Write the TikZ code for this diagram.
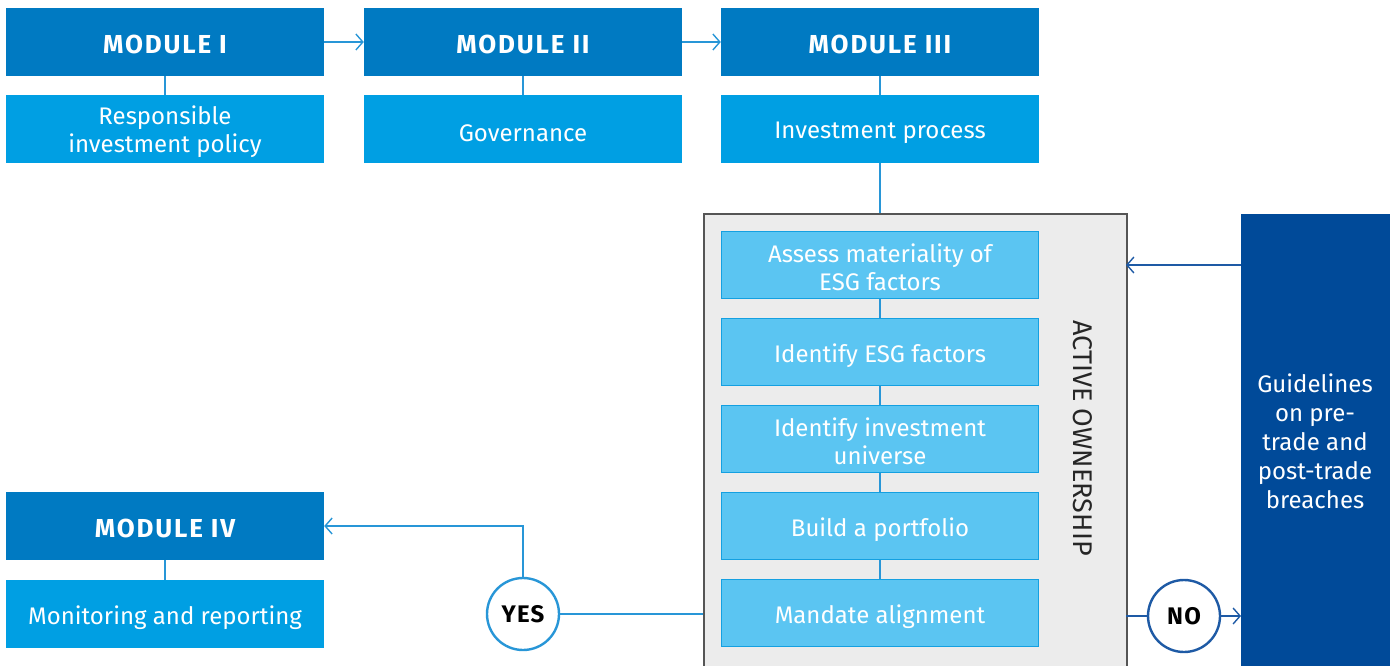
\documentclass[tikz,border=0pt]{standalone}
\usepackage{fontspec}
\setmainfont{Fira Sans}
\usetikzlibrary{arrows.meta}
\definecolor{hdr}{RGB}{0,122,194}
\definecolor{sub}{RGB}{0,159,227}
\definecolor{inner}{RGB}{91,197,242}
\definecolor{innerb}{RGB}{20,160,225}
\definecolor{grayfill}{RGB}{236,236,236}
\definecolor{grayedge}{RGB}{85,85,85}
\definecolor{navy}{RGB}{0,74,153}
\definecolor{lineb}{RGB}{40,150,215}
\definecolor{darkline}{RGB}{30,90,165}
\newcommand{\hdrfont}{\fontsize{26}{30}\selectfont\bfseries\addfontfeatures{LetterSpace=7}}
\tikzset{
  hdrbox/.style={fill=hdr, draw=none, minimum width=318pt, minimum height=68pt, inner sep=0pt},
  subbox/.style={fill=sub, draw=none, minimum width=318pt, minimum height=68pt, inner sep=0pt},
  innerbox/.style={fill=inner, draw=innerb, line width=1.2pt, minimum width=317pt, minimum height=67pt, inner sep=0pt},
  hdrtext/.style={text=white, inner sep=0pt, font=\hdrfont, yshift=-2pt},
  bodytext/.style={text=white, inner sep=0pt, align=center, font=\fontsize{24}{28}\selectfont, yshift=-2.5pt},
  oneline/.style={bodytext, yshift=-1.5pt},
  conn/.style={draw=lineb, line width=1.6pt},
  darkconn/.style={draw=darkline, line width=1.6pt},
  barb/.style={-{Straight Barb[length=7pt,width=16pt,line width=1.4pt]}},
  decision/.style={circle, draw=#1, line width=2.4pt, fill=white, minimum size=72pt, inner sep=0pt,
    font=\fontsize{24}{26}\selectfont\bfseries\addfontfeatures{LetterSpace=5}, text=black},
}
\begin{document}
\begin{tikzpicture}[x=1pt,y=-1pt]
\useasboundingbox (0,0) rectangle (1394,666);
% module header boxes
\node[hdrbox] (m1) at (165,42) {};
\node[hdrbox] (m2) at (523,42) {};
\node[hdrbox] (m3) at (880,42) {};
\node[subbox] (s1) at (165,129) {};
\node[subbox] (s2) at (523,129) {};
\node[subbox] (s3) at (880,129) {};
\node[hdrbox] (m4) at (165,526) {};
\node[subbox] (s4) at (165,614) {};
\node[hdrtext] (m1t) at (m1) {MODULE I};
\node[hdrtext] (m2t) at (m2) {MODULE II};
\node[hdrtext] (m3t) at (m3) {MODULE III};
\node[hdrtext] (m4t) at (m4) {MODULE IV};
\node[bodytext] (s1t) at (s1) {Responsible\\investment policy};
\node[oneline] (s2t) at (s2) {Governance};
\node[oneline] (s3t) at (s3) {Investment process};
\node[oneline] (s4t) at (s4) {Monitoring and reporting};
% gray active ownership panel
\node[fill=grayfill, draw=grayedge, line width=1.8pt, minimum width=423pt, minimum height=470pt, inner sep=0pt, anchor=north west] (panel) at (703,213) {};
\node[innerbox] (i1) at (880,265) {};
\node[innerbox] (i2) at (880,352) {};
\node[innerbox] (i3) at (880,439) {};
\node[innerbox] (i4) at (880,526) {};
\node[innerbox] (i5) at (880,613) {};
\node[bodytext] (i1t) at (i1) {Assess materiality of\\ESG factors};
\node[oneline] (i2t) at (i2) {Identify ESG factors};
\node[bodytext] (i3t) at (i3) {Identify investment\\universe};
\node[oneline] (i4t) at (i4) {Build a portfolio};
\node[oneline] (i5t) at (i5) {Mandate alignment};
\node[rotate=-90, font=\fontsize{27}{30}\selectfont, text=black!85] (ao) at (1083,438) {ACTIVE OWNERSHIP};
% guidelines
\node[fill=navy, minimum width=149pt, minimum height=470pt, inner sep=0pt, anchor=north west] (gl) at (1241,214) {};
\node[text=white, align=center, font=\fontsize{24}{29}\selectfont] (gltext) at (1315,441) {Guidelines\\on pre-\\trade and\\post-trade\\breaches};
% decisions
\node[decision=lineb] (yes) at (523,614) {YES};
\node[decision=darkline] (no) at (1184,616) {NO};
% connectors
\draw[conn, barb] (m1.east) -- (m2.west);
\draw[conn, barb] (m2.east) -- (m3.west);
\draw[conn] (m1.south) -- (s1.north);
\draw[conn] (m2.south) -- (s2.north);
\draw[conn] (m3.south) -- (s3.north);
\draw[conn] (m4.south) -- (s4.north);
\draw[conn] (s3.south) -- (panel.north -| s3.south);
\draw[conn] (i1.south) -- (i2.north);
\draw[conn] (i2.south) -- (i3.north);
\draw[conn] (i3.south) -- (i4.north);
\draw[conn] (i4.south) -- (i5.north);
\coordinate (pl) at (703,614);
\draw[conn] (pl) -- (yes.east);
\draw[conn, barb] (yes.north) |- (m4.east);
\coordinate (pr) at (1126,616);
\coordinate (pr2) at (1126,265);
\coordinate (gl2) at (1241,265);
\draw[darkconn] (pr) -- (no.west);
\draw[darkconn, barb] (no.east) -- (no.east -| gl.west);
\draw[darkconn, barb] (gl2) -- (pr2);
\end{tikzpicture}
\end{document}
